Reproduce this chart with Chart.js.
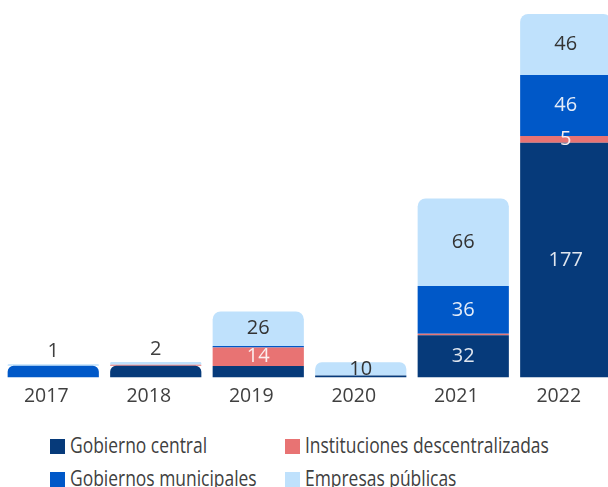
<!DOCTYPE html>
<html lang="es">
<head>
<meta charset="utf-8">
<script src="https://cdn.jsdelivr.net/npm/chart.js@4"></script>
<style>
html, body { margin: 0; padding: 0; background: #fff; overflow: hidden; width: 608px; height: 487px; }
#wrap { position: absolute; left: 0; top: 0; width: 620px; height: 415px; }
#legend { position: absolute; left: 0; top: 0; }
.item { position: absolute; display: flex; align-items: center; height: 15px; font-family: 'Open Sans', sans-serif; color: #404040; white-space: nowrap; }
.item .sw { width: 15px; height: 15px; margin-right: 5px; flex: none; }
.item .tx { display: inline-block; position: relative; top: -1px; font-size: 21px; line-height: 21px; transform: scaleX(0.83); transform-origin: 0 50%; }
</style>
</head>
<body>
<div id="wrap"><canvas id="grafico"></canvas></div>
<div id="legend"></div>
<script>
const anios = ['2017', '2018', '2019', '2020', '2021', '2022'];

const gobiernoCentral = [0, 9, 8.7, 1.5, 32, 177];
const instituciones = [0, 0.7, 14, 0, 1, 5];
const municipales = [9, 0, 1.2, 0, 36, 46];
const empresas = [1, 2, 26, 10, 66, 46];

// which segments carry a number in the picture
const conEtiquetaCentral = [0, 0, 0, 0, 1, 1];
const conEtiquetaInstituciones = [0, 0, 1, 0, 0, 1];
const conEtiquetaMunicipales = [0, 0, 0, 0, 1, 1];
const conEtiquetaEmpresas = [1, 1, 1, 1, 1, 1];

const totales = anios.map((a, j) => gobiernoCentral[j] + instituciones[j] + municipales[j] + empresas[j]);

// radius on the top of the stack only (and on segments just under a very thin one)
function radio(ctx) {
    const i = ctx.datasetIndex;
    const j = ctx.dataIndex;
    const sets = ctx.chart.data.datasets;
    let encima = 0;
    for (let k = i + 1; k < sets.length; k++) encima += sets[k].data[j];
    if (sets[i].data[j] > 0 && encima < 6) {
        return { topLeft: 8, topRight: 8, bottomLeft: 0, bottomRight: 0 };
    }
    return 0;
}

const etiquetas = {
    id: 'etiquetas',
    afterDatasetsDraw(chart) {
        const ctx = chart.ctx;
        const n = chart.data.datasets.length;
        ctx.save();
        ctx.font = "20px 'Open Sans', sans-serif";
        ctx.textAlign = 'center';
        ctx.textBaseline = 'middle';
        chart.data.datasets.forEach((ds, i) => {
            const meta = chart.getDatasetMeta(i);
            meta.data.forEach((bar, j) => {
                if (!ds.conEtiqueta[j]) return;
                const alto = Math.abs(bar.base - bar.y);
                let y = (bar.y + bar.base) / 2;
                let color = ds.colorTexto;
                if (i === n - 1 && alto < 12) {
                    y = bar.y - 13;
                    color = '#404040';
                }
                ctx.fillStyle = color;
                ctx.fillText(String(ds.data[j]), bar.x, y);
            });
        });
        ctx.restore();
    }
};

const grafico = new Chart(document.getElementById('grafico').getContext('2d'), {
    type: 'bar',
    data: {
        labels: anios,
        datasets: [
            {
                label: 'Gobierno central',
                data: gobiernoCentral,
                backgroundColor: '#063a7a',
                conEtiqueta: conEtiquetaCentral,
                colorTexto: '#e0e6ef'
            },
            {
                label: 'Instituciones descentralizadas',
                data: instituciones,
                backgroundColor: '#e87373',
                conEtiqueta: conEtiquetaInstituciones,
                colorTexto: '#fbeeee'
            },
            {
                label: 'Gobiernos municipales',
                data: municipales,
                backgroundColor: '#0058c8',
                conEtiqueta: conEtiquetaMunicipales,
                colorTexto: '#e4ecf8'
            },
            {
                label: 'Empresas públicas',
                data: empresas,
                backgroundColor: '#bfe1fc',
                conEtiqueta: conEtiquetaEmpresas,
                colorTexto: '#333'
            }
        ]
    },
    options: {
        responsive: true,
        maintainAspectRatio: false,
        animation: false,
        layout: { padding: { left: 2, right: 3, top: 14, bottom: 0 } },
        datasets: {
            bar: {
                categoryPercentage: 1,
                barPercentage: 0.89,
                borderWidth: 0,
                borderRadius: radio
            }
        },
        plugins: {
            legend: { display: false },
            tooltip: { enabled: false }
        },
        scales: {
            x: {
                stacked: true,
                grid: { display: false, drawTicks: false },
                border: { display: false },
                ticks: {
                    color: '#404040',
                    padding: 7,
                    labelOffset: -7,
                    font: { family: "'Open Sans', sans-serif", size: 19.5 }
                }
            },
            y: {
                stacked: true,
                display: false,
                min: 0,
                max: Math.max(...totales)
            }
        }
    },
    plugins: [etiquetas]
});

// legend in two columns, built from the datasets
const legend = document.getElementById('legend');
const columnas = [50, 285];
const filas = [439, 472];
grafico.data.datasets.forEach((ds, i) => {
    const item = document.createElement('div');
    item.className = 'item';
    item.style.left = columnas[i % 2] + 'px';
    item.style.top = filas[Math.floor(i / 2)] + 'px';
    const sw = document.createElement('span');
    sw.className = 'sw';
    sw.style.background = ds.backgroundColor;
    item.appendChild(sw);
    const txt = document.createElement('span');
    txt.className = 'tx';
    txt.textContent = ds.label;
    item.appendChild(txt);
    legend.appendChild(item);
});
</script>
</body>
</html>
